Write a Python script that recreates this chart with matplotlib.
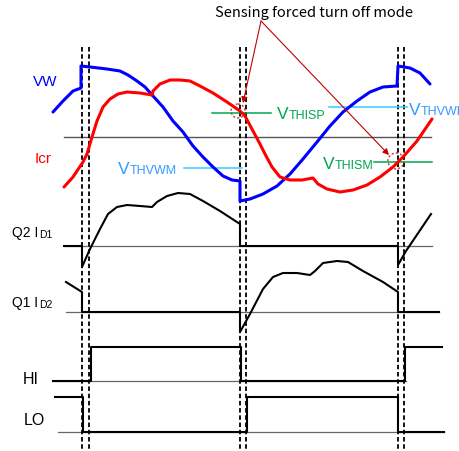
import matplotlib
matplotlib.use('Agg')
import matplotlib.pyplot as plt
from matplotlib.patches import Circle

# waveform key points (x = time in px, y = level in px, screen coords)
vw_t = [53, 63, 73, 81, 81, 90, 107, 120, 128, 137, 145, 153, 163, 173, 183, 193, 203, 213,
        223, 232, 240, 240, 250, 263, 277, 290, 303, 317, 330, 343, 357, 370, 383, 397,
        398, 410, 420, 430]
vw_v = [113, 102, 92, 89, 67, 68, 70, 72, 76, 82, 88, 97, 108, 122, 133, 147, 158, 168,
        177, 181, 182, 202, 200, 195, 187, 175, 160, 143, 127, 113, 102, 93, 88, 87,
        67, 69, 74, 85]

icr_t = [64, 73, 83, 87, 92, 97, 103, 110, 118, 127, 140, 152, 153, 160, 170, 180, 190, 200,
         213, 227, 240, 245, 253, 260, 265, 272, 280, 290, 302, 313, 318, 327, 340, 353,
         367, 380, 393, 403, 417, 432]
icr_v = [188, 178, 163, 155, 138, 122, 108, 100, 95, 93, 94, 96, 92, 85, 81, 81, 82, 87,
         94, 103, 112, 117, 132, 145, 155, 168, 178, 181, 181, 179, 185, 190, 193, 191,
         186, 178, 168, 158, 142, 120]

id1_t = [64, 82, 82, 90, 100, 108, 117, 127, 140, 152, 157, 167, 178, 190, 203, 220, 240,
         240, 398, 398, 406, 431]
id1_v = [247, 247, 268, 250, 230, 215, 208, 206, 207, 208, 203, 197, 194, 195, 202, 212, 225,
         247, 247, 266, 252, 215]

id2_t = [66, 82, 82, 240, 240, 250, 263, 273, 283, 297, 310, 315, 323, 337, 348, 363, 383,
         398, 398, 439]
id2_v = [283, 293, 313, 313, 333, 315, 290, 278, 274, 274, 276, 272, 264, 262, 263, 272, 283,
         293, 313, 313]

hi_t = [53, 91, 91, 241, 241, 405, 405, 442]
hi_v = [382, 382, 348, 348, 382, 382, 348, 348]

lo_t = [55, 83, 83, 247, 247, 398, 398, 444]
lo_v = [398, 398, 433, 433, 398, 398, 433, 433]

# reference lines: (x0, x1, y)
zero_line = (64, 431, 138)
base_lines = [(64, 432, 247), (66, 439, 313), (53, 406, 382), (58, 444, 433)]
edges = [82, 89, 240, 246, 398, 404]

green = '#00a651'
lblue = '#3399ff'
cyan = '#33ccff'

fig = plt.figure(figsize=(4.59, 4.52), dpi=100)
ax = fig.add_axes([0, 0, 1, 1])
ax.set_xlim(0, 459)
ax.set_ylim(452, 0)
ax.axis('off')

ax.plot([zero_line[0], zero_line[1]], [zero_line[2]] * 2, color='#555555', lw=1.0)
for x0, x1, y in base_lines:
    ax.plot([x0, x1], [y, y], color='#666666', lw=0.9)

for x in edges:
    ax.plot([x, x], [48, 452], color='black', lw=1.3, ls=(0, (2.5, 1.5)))

# threshold lines
ax.plot([212, 271], [114, 114], color=green, lw=1.1)
ax.plot([374, 432], [163, 163], color=green, lw=1.1)
ax.plot([329, 407], [108, 108], color=cyan, lw=1.1)
ax.plot([184, 242], [169, 169], color=cyan, lw=1.1)

ax.plot(vw_t, vw_v, color='#0000ff', lw=2.2, solid_joinstyle='round', solid_capstyle='round')
ax.plot(icr_t, icr_v, color='#ff0000', lw=2.2, solid_joinstyle='round', solid_capstyle='round')
for t, v in [(id1_t, id1_v), (id2_t, id2_v), (hi_t, hi_v), (lo_t, lo_v)]:
    ax.plot(t, v, color='black', lw=1.5, solid_joinstyle='round')

# sensing circles and arrows
for cx, cy, r in [(238, 112, 7), (396, 162, 8)]:
    ax.add_patch(Circle((cx, cy), r, fill=False, ec='#cc3333', lw=1, ls=(0, (1.5, 1.5))))
for tx, ty in [(243, 104), (389, 156)]:
    ax.annotate('', xy=(tx, ty), xytext=(261, 22),
                arrowprops=dict(arrowstyle='-|>', color='#c00000', lw=0.8,
                                mutation_scale=9, shrinkA=0, shrinkB=0))

ax.text(314, 13, 'Sensing forced turn off mode', ha='center', va='center',
        fontsize=10.5, family=['Noto Sans CJK JP', 'DejaVu Sans'])

lab = dict(family='Liberation Sans', va='baseline')


def sublabel(x, y, main, sub, size, subsize, color='black', gap=0.5):
    t = ax.text(x, y, main, color=color, fontsize=size, **lab)
    ax.annotate(sub, xy=(1, 0), xycoords=t, xytext=(gap, 0), textcoords='offset points',
                color=color, fontsize=subsize, family='Liberation Sans',
                ha='left', va='bottom')


ax.text(33, 86, 'VW', color='#0000ff', fontsize=11, **lab)
ax.text(35, 163, 'Icr', color='#ff0000', fontsize=11, **lab)

sublabel(12, 237, 'Q2 I', 'D1', 10, 7.5)
sublabel(12, 307, 'Q1 I', 'D2', 10, 7.5)
ax.text(23, 384, 'HI', fontsize=11.5, **lab)
ax.text(24, 425, 'LO', fontsize=11.5, **lab)

sublabel(277, 119, 'V', 'THISP', 12.5, 9, green, 0)
sublabel(323, 169, 'V', 'THISM', 12.5, 9, green, 0)
sublabel(409, 115, 'V', 'THVWP', 12.5, 9, lblue, 0)
sublabel(118, 174, 'V', 'THVWM', 12.5, 9, lblue, 0)

fig.savefig('out.png', dpi=100)
